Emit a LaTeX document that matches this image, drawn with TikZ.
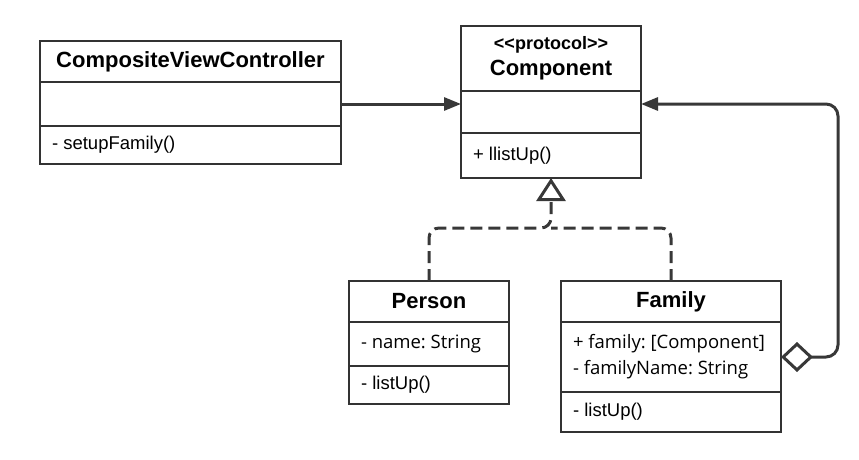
\documentclass[tikz,border=0pt]{standalone}
\usepackage{fontspec}
\setmainfont{Liberation Sans}
\newfontfamily\attrfont{Open Sans}
\usetikzlibrary{positioning,arrows.meta}
\frenchspacing

\begin{document}
\begin{tikzpicture}[x=1pt,y=-1pt]
  \useasboundingbox (0,0) rectangle (859,460);

  \tikzstyle{Part}=[draw=black!80, line width=1.2pt, outer sep=0pt, inner sep=0pt]
  \tikzstyle{Title}=[Part, font=\bfseries\fontsize{22}{26}\selectfont, align=center]
  \tikzstyle{Attr}=[Part, font=\attrfont\fontsize{18.5}{26}\selectfont, align=flush left, inner xsep=12pt]
  \tikzstyle{Meth}=[Part, font=\fontsize{18.5}{22}\selectfont, align=flush left, inner xsep=12pt]

  % CompositeViewController
  \node[Title, minimum width=301pt, minimum height=41pt, anchor=north west] (cvc) at (40,41) {CompositeViewController};
  \node[Attr, text width=277pt, minimum height=44pt, below=0pt of cvc] (cvcA) {};
  \node[Meth, text width=277pt, minimum height=38pt, below=0pt of cvcA] (cvcM) {- setupFamily()};

  % Component
  \node[Title, minimum width=180pt, minimum height=65pt, anchor=north west] (comp) at (461,26)
    {{\fontsize{18}{22}\selectfont <\kern0pt<protocol>\kern0pt>}\\Component};
  \node[Attr, text width=156pt, minimum height=42pt, below=0pt of comp] (compA) {};
  \node[Meth, text width=156pt, minimum height=45pt, below=0pt of compA] (compM) {+ llistUp()};

  % Person
  \node[Title, minimum width=160pt, minimum height=41pt, anchor=north west] (person) at (349,281) {Person};
  \node[Attr, text width=136pt, minimum height=44pt, below=0pt of person] (personA) {- name: String};
  \node[Meth, text width=136pt, minimum height=38pt, below=0pt of personA] (personM) {- listUp()};

  % Family
  \node[Title, minimum width=220pt, minimum height=41pt, anchor=north west] (family) at (561,281) {Family};
  \node[Attr, text width=196pt, minimum height=70pt, below=0pt of family] (famA)
    {+ family: [Component]\\- familyName: String};
  \node[Meth, text width=196pt, minimum height=40pt, below=0pt of famA] (famM) {- listUp()};

  \tikzstyle{Assoc}=[draw=black!78, line width=3pt, -{Triangle[length=17pt,width=13pt]}]
  \tikzstyle{Aggr}=[Assoc, rounded corners=12pt, {Diamond[open,length=32pt,width=30pt]}-{Triangle[length=17pt,width=13pt]}]
  \tikzstyle{Real}=[draw=black!78, line width=3pt, dash pattern=on 12pt off 6pt, rounded corners=10pt]

  \coordinate (bend) at (838,104);
  \coordinate (join) at (551,228);

  \draw[Assoc] (cvcA.east) -- (cvcA.east -| comp.west);
  \draw[Aggr] (famA.east) -| (bend) -- (bend -| comp.east);
  \draw[Real, -{Triangle[open,length=23pt,width=29pt]}] (person.north) |- (join) -- (compM.south);
  \draw[Real] (family.north) |- (join);
\end{tikzpicture}
\end{document}
